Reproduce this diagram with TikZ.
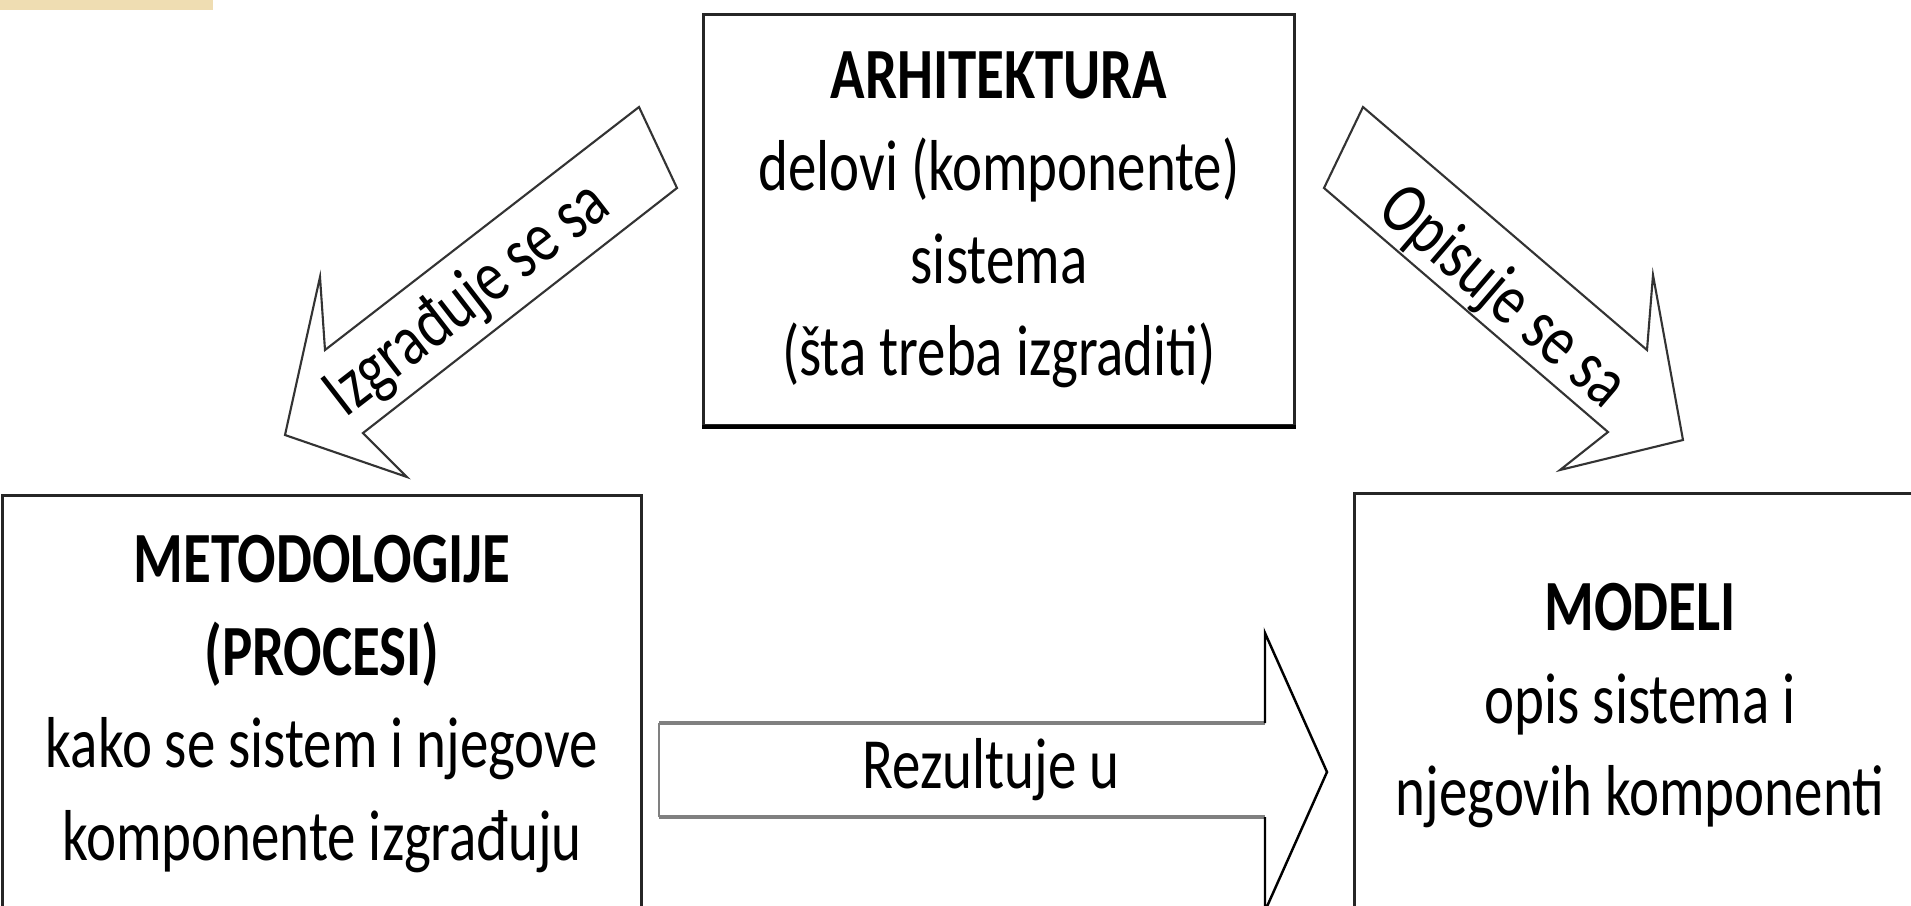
\documentclass[tikz,border=0pt]{standalone}
\usepackage{fontspec}
\setmainfont{Carlito}[FakeStretch=0.79]
\definecolor{strip}{RGB}{239,221,178}

\tikzset{
	box/.style={draw=black!85, line width=0.9pt, align=center, inner sep=0pt, font=\fontsize{20.5}{26.3}\selectfont},
	arrowline/.style={draw=black!80, line width=0.6pt},
	arrowtext/.style={inner sep=0pt, font=\fontsize{20.5}{26.3}\selectfont}
}

\begin{document}
\begin{tikzpicture}[x=0.01cm, y=-0.01cm]
			%%%%% START %%%%%
			
			\clip (0, 0) rectangle (1911, 905);
			\fill[white] (0, 0) rectangle (1911, 905);
			\fill[strip] (0, 0) rectangle (213, 10);
			
			\node[box, minimum width=5.9cm, minimum height=4.1cm] (arh) at (999, 220) {\textbf{ARHITEKTURA}\\delovi (komponente)\\sistema\\(šta treba izgraditi)};
			\draw[black, line width=1.1pt] (arh.south west) -- (arh.south east);
			\node[box, minimum width=6.39cm, minimum height=4.16cm] (metod) at (322, 704) {\textbf{METODOLOGIJE}\\\textbf{(PROCESI)}\\kako se sistem i njegove\\komponente izgrađuju};
			\node[box, minimum width=5.7cm, minimum height=4.24cm] (modeli) at (1640, 706) {\textbf{MODELI}\\opis sistema i\\njegovih komponenti};
			
			\draw[arrowline] (639, 107) -- (325, 350) -- (320, 277) -- (285, 435) -- (407, 477) -- (363, 433) -- (677, 188) -- cycle;
			\node[arrowtext, rotate=37.7] (izgr) at (468, 300) {Izgrađuje se sa};
			
			\draw[arrowline] (1363, 107) -- (1647, 350) -- (1653, 275) -- (1683, 440) -- (1560, 470) -- (1608, 432) -- (1324, 188) -- cycle;
			\node[arrowtext, rotate=-40.6] (opis) at (1502, 298) {Opisuje se sa};
			
			\draw[black!50, line width=1pt] (659, 723) -- (1265, 723);
			\draw[black!50, line width=1pt] (659, 817) -- (1265, 817);
			\draw[black!50, line width=0.5pt] (659, 723) -- (659, 817);
			\draw[black, line width=0.7pt] (1265, 723) -- (1265, 633) -- (1327, 772) -- (1265, 911) -- (1265, 817);
			\node[arrowtext] (rez) at (991, 770) {Rezultuje u};
			
			%%%%% END %%%%%
\end{tikzpicture}
\end{document}
